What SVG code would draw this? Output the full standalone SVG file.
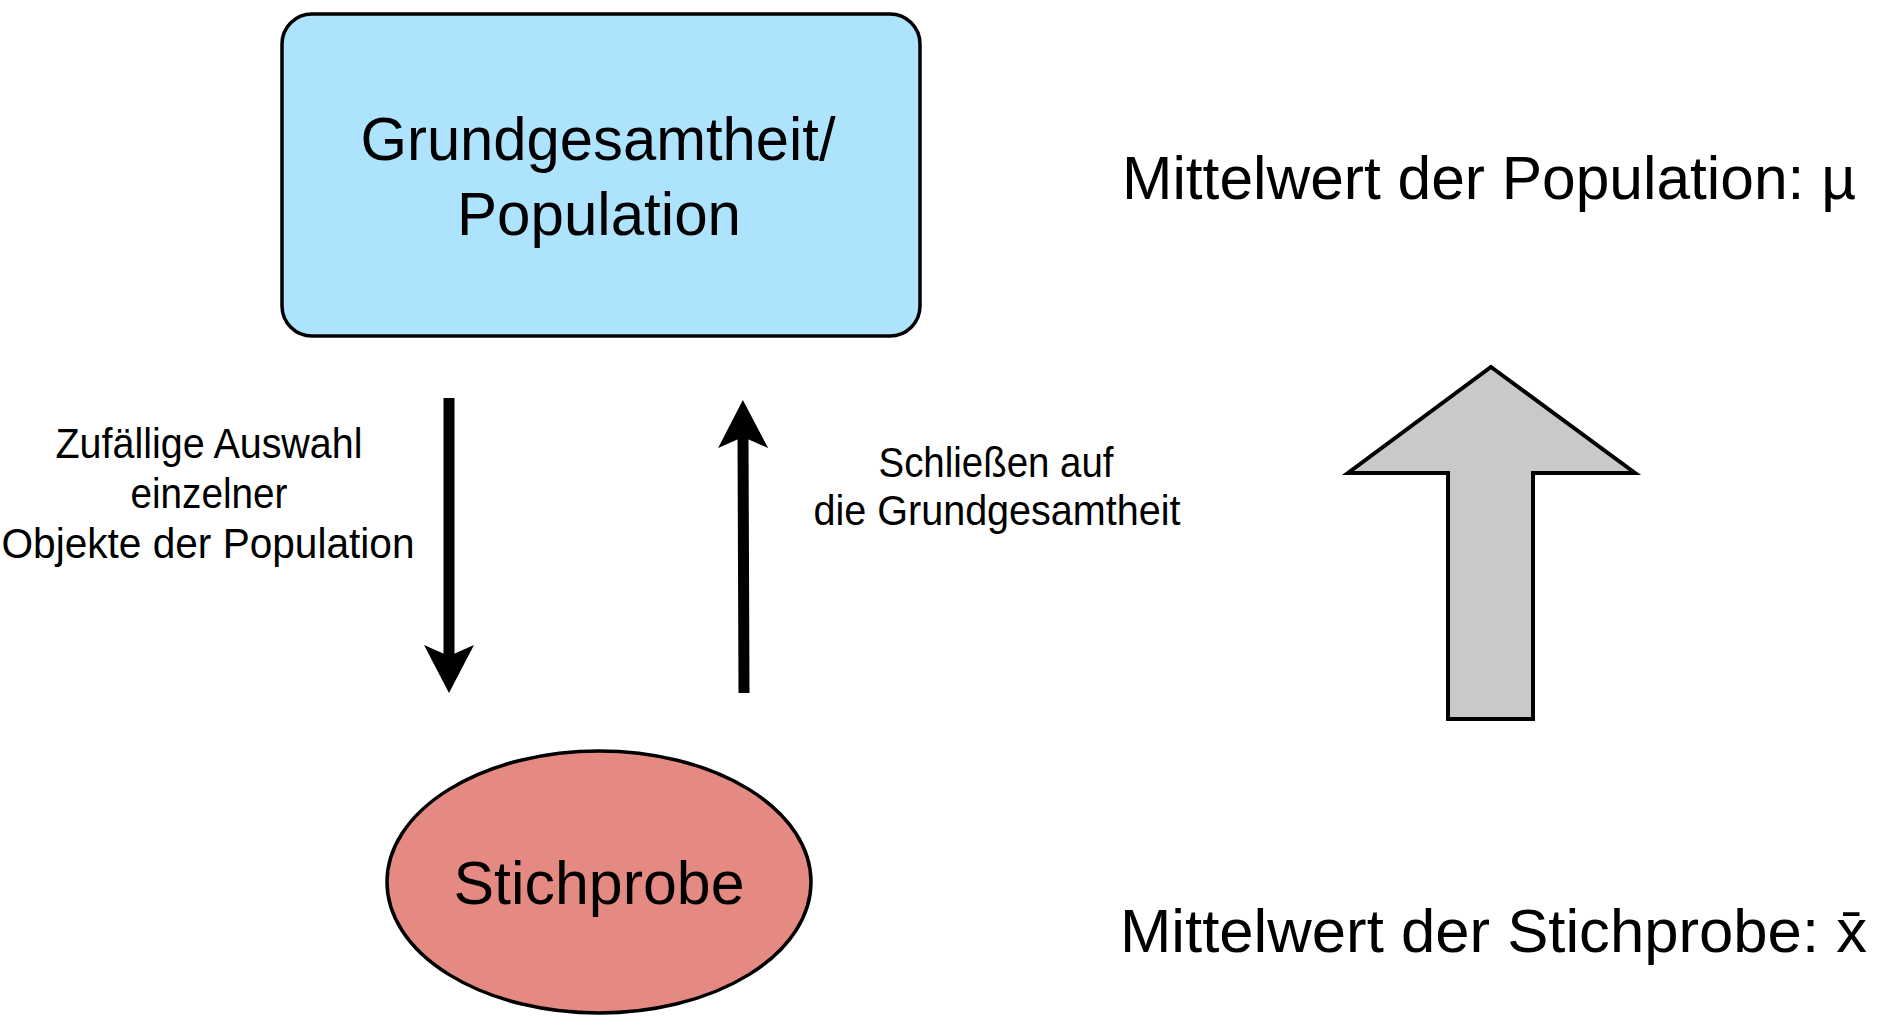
<svg xmlns="http://www.w3.org/2000/svg" width="1878" height="1031" viewBox="0 0 1878 1031">
  <style>
    text { font-family: "Liberation Sans", Arial, sans-serif; fill: #000; }
    .big { font-size: 62px; }
    .small { font-size: 42px; }
    .conn { stroke: #000; stroke-width: 11; fill: none; }
  </style>
  <defs>
    <marker id="head" viewBox="0 0 48 50" refX="11" refY="25" markerWidth="48" markerHeight="50" markerUnits="userSpaceOnUse" orient="auto">
      <path d="M0,0 L48,25 L0,50 L11,25 Z" fill="#000"/>
    </marker>
  </defs>
  <rect width="1878" height="1031" fill="#fff"/>

  <g id="population">
    <rect x="282" y="14" width="638" height="322" rx="30" ry="30" fill="#ADE3FD" stroke="#000" stroke-width="3.5"/>
    <text class="big" x="598" y="160" text-anchor="middle" textLength="475" lengthAdjust="spacingAndGlyphs">Grundgesamtheit/</text>
    <text class="big" x="599" y="235" text-anchor="middle" textLength="284" lengthAdjust="spacingAndGlyphs">Population</text>
  </g>

  <g id="stichprobe">
    <ellipse cx="599" cy="882" rx="212" ry="131" fill="#E58A82" stroke="#000" stroke-width="3.5"/>
    <text class="big" x="599" y="904" text-anchor="middle" textLength="291" lengthAdjust="spacingAndGlyphs">Stichprobe</text>
  </g>

  <g id="connectors">
    <line class="conn" x1="449" y1="398" x2="449" y2="656" marker-end="url(#head)"/>
    <line class="conn" x1="744" y1="693" x2="743" y2="437" marker-end="url(#head)"/>
  </g>

  <g id="label-auswahl">
    <text class="small" x="209" y="458" text-anchor="middle" textLength="307" lengthAdjust="spacingAndGlyphs">Zufällige Auswahl</text>
    <text class="small" x="209" y="508" text-anchor="middle" textLength="157" lengthAdjust="spacingAndGlyphs">einzelner</text>
    <text class="small" x="208" y="558" text-anchor="middle" textLength="413" lengthAdjust="spacingAndGlyphs">Objekte der Population</text>
  </g>

  <g id="label-schliessen">
    <text class="small" x="996" y="477" text-anchor="middle" textLength="235" lengthAdjust="spacingAndGlyphs">Schließen auf</text>
    <text class="small" x="997" y="525" text-anchor="middle" textLength="367" lengthAdjust="spacingAndGlyphs">die Grundgesamtheit</text>
  </g>

  <g id="big-arrow">
    <polygon points="1491,367 1635,473 1533,473 1533,719 1448,719 1448,473 1348,473" fill="#C9C9C9" stroke="#000" stroke-width="4"/>
  </g>

  <g id="mittelwert-population">
    <text class="big" x="1122" y="199" textLength="734" lengthAdjust="spacingAndGlyphs">Mittelwert der Population: µ</text>
  </g>

  <g id="mittelwert-stichprobe">
    <text class="big" x="1120" y="952" textLength="747" lengthAdjust="spacingAndGlyphs">Mittelwert der Stichprobe: x̄</text>
  </g>
</svg>
